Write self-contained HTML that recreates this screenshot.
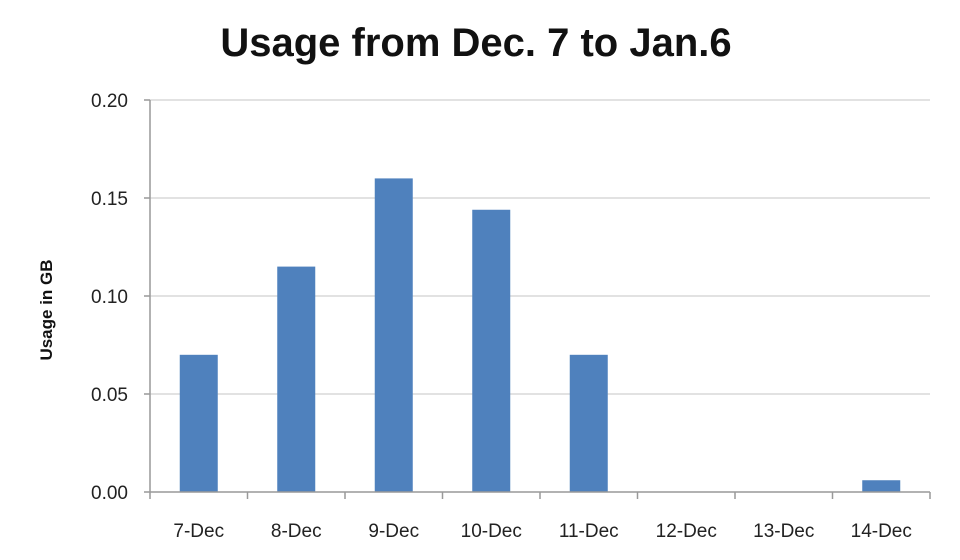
<!DOCTYPE html>
<html><head><meta charset="utf-8"><style>
html,body{margin:0;padding:0;background:#fff;width:960px;height:560px;overflow:hidden}
text{font-family:"Liberation Sans",sans-serif}
</style></head><body>
<svg id="chart" width="960" height="560">
<text x="476" y="56" text-anchor="middle" font-size="40" font-weight="bold" fill="#111">Usage from Dec. 7 to Jan.6</text>
<text transform="translate(52,310) rotate(-90)" text-anchor="middle" font-size="17" font-weight="bold" fill="#111">Usage in GB</text>
<g id="grid"></g><g id="bars"></g><g id="axes"></g>
</svg>
<script>
const categories=["7-Dec","8-Dec","9-Dec","10-Dec","11-Dec","12-Dec","13-Dec","14-Dec"];
const usage=[0.07,0.115,0.16,0.144,0.07,0,0,0.006];
const yTicks=[0,0.05,0.1,0.15,0.2];
const yTickLabels=["0.00","0.05","0.10","0.15","0.20"];
const NS="http://www.w3.org/2000/svg";
const X0=150,X1=930,Y0=492,Y1=100,YMAX=0.2;
const y=v=>Y0-(v/YMAX)*(Y0-Y1);
const band=(X1-X0)/categories.length;
const xc=i=>X0+band*(i+0.5);
function mk(tag,attrs,parent){const e=document.createElementNS(NS,tag);for(const k in attrs)e.setAttribute(k,attrs[k]);document.getElementById(parent).appendChild(e);return e;}
yTicks.forEach((t,i)=>{
 if(t>0){const g=mk('line',{x1:X0,x2:X1,y1:y(t),y2:y(t),stroke:'#d9d9d9','stroke-width':1.5},'grid');
 
 }
 const tk=mk('line',{x1:X0-6,x2:X0,y1:y(t),y2:y(t),stroke:'#999','stroke-width':1.5},'axes');
 
 
 const l=mk('text',{x:X0-22,y:y(t)+7,'text-anchor':'end','font-size':19,fill:'#222'},'axes');
 l.textContent=yTickLabels[i];
 
 
});
const bw=38;
usage.forEach((v,i)=>{
 const h=Y0-y(v);
 const b=mk('rect',{x:xc(i)-bw/2,y:y(v),width:bw,height:h,fill:'#4f81bd'},'bars');
 
 
 const l=mk('text',{x:xc(i),y:537,'text-anchor':'middle','font-size':19,fill:'#222'},'axes');
 l.textContent=categories[i];
 
 
});
for(let i=0;i<=categories.length;i++){
 const t=mk('line',{x1:X0+band*i,x2:X0+band*i,y1:Y0,y2:Y0+7,stroke:'#999','stroke-width':1.5},'axes');
 
 
}
const ya=mk('line',{x1:X0,x2:X0,y1:Y1,y2:Y0,stroke:'#999','stroke-width':1.5},'axes');


const xa=mk('line',{x1:X0,x2:X1,y1:Y0,y2:Y0,stroke:'#999','stroke-width':1.5},'axes');


</script>
</body></html>
